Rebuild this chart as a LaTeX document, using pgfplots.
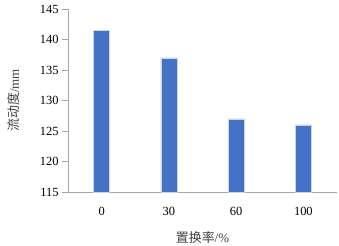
\documentclass[border=0pt]{standalone}
\usepackage{fontspec}
\setmainfont{Liberation Serif}
\newfontfamily\cjk{Noto Sans CJK SC}
\usepackage{pgfplots}
\pgfplotsset{compat=1.18}
\definecolor{barblue}{HTML}{4472C4}
\definecolor{axgray}{HTML}{A6A6A6}
\definecolor{txt}{HTML}{404040}
\begin{document}
\begin{tikzpicture}
\begin{axis}[
  scale only axis,
  width=269bp, height=183bp,
  xmin=-0.5, xmax=3.5,
  ymin=115, ymax=145,
  ytick={115,120,...,145},
  xtick={0,1,2,3},
  xticklabels={0,30,60,100},
  axis x line*=bottom,
  axis y line*=left,
  axis line style={axgray, line width=0.8pt},
  tick align=outside,
  major tick length=6bp,
  ytick style={axgray, line width=0.8pt},
  xtick style={draw=none},
  /pgf/number format/assume math mode=true,
  ticklabel style={font=\fontsize{12.5}{13}\selectfont, text=black},
  xticklabel style={yshift=-6bp},
  ylabel={\cjk 流动度\rmfamily/mm},
  xlabel={\cjk 置换率\rmfamily/\%},
  label style={font=\fontsize{13}{14}\selectfont, text=txt},
  ylabel style={at={(axis description cs:-0.2007,0.5)}, anchor=center},
  xlabel style={at={(axis description cs:0.5,-0.2514)}, anchor=center},
  ybar, bar width=16bp,
  clip=false,
]
\addplot[fill=barblue, draw=white!70!barblue, line width=0.3pt] coordinates {(0,141.5) (1,137) (2,127) (3,126)};
\end{axis}
\pgfresetboundingbox
\path[use as bounding box] ([xshift=-68bp,yshift=-54bp]current axis.south west) rectangle ([xshift=2bp,yshift=9bp]current axis.north east);
\end{tikzpicture}
\end{document}
